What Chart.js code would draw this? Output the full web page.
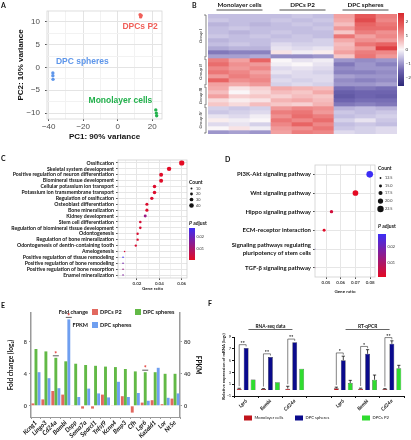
<!DOCTYPE html>
<html>
<head>
<meta charset="utf-8">
<title>DPC spheres transcriptome figure</title>
<script src="https://cdn.jsdelivr.net/npm/chart.js@4.4.1/dist/chart.umd.min.js"></script>
<style>
  body { margin: 0; background: #fff; }
  #fig { position: relative; width: 411px; height: 440px; overflow: hidden; font-family: Lato, "Liberation Sans", Arial, sans-serif; }
  #fig canvas { position: absolute; }
  .tag { position: absolute; font-weight: bold; font-size: 7px; line-height: 7px; color: #111; }
</style>
</head>
<body>
<div id="fig">
  <canvas id="pca" width="172" height="145" style="left:0;top:0"></canvas>
  <canvas id="heat" width="216" height="145" style="left:195px;top:0"></canvas>
  <canvas id="goBp" width="212" height="145" style="left:0;top:150px"></canvas>
  <canvas id="kegg" width="206" height="145" style="left:205px;top:150px"></canvas>
  <canvas id="fold" width="205" height="142" style="left:0;top:298px"></canvas>
  <canvas id="qpcr" width="206" height="142" style="left:205px;top:298px"></canvas>
  <div class="tag" style="left:1px;top:2px">A</div>
  <div class="tag" style="left:192px;top:2px">B</div>
  <div class="tag" style="left:1px;top:155px">C</div>
  <div class="tag" style="left:225px;top:156px">D</div>
  <div class="tag" style="left:1px;top:302px">E</div>
  <div class="tag" style="left:208px;top:300px">F</div>
</div>
<script>
// ---------- data ----------
// A: PCA
const pcaGroups = ['DPCs P2', 'DPC spheres', 'Monolayer cells'];
const pcaPc1 = [[13.0, 13.3, 13.6], [-37.6, -37.6, -37.5], [22.1, 22.4, 22.6]];
const pcaPc2 = [[11.6, 11.1, 11.4], [-1.2, -1.8, -2.6], [-9.3, -10.0, -10.6]];
const pcaXTicks = [-40, -30, -20, -10, 0, 10, 20];
const pcaYTicks = [-10, -7.5, -5, -2.5, 0, 2.5, 5, 7.5, 10];

// B: heatmap (z-scores), 3 replicates per condition
const heatConditions = ['Monolayer cells', 'DPCs P2', 'DPC spheres'];
const heatSamples = ['M1', 'M2', 'M3', 'P1', 'P2', 'P3', 'S1', 'S2', 'S3'];
const heatGroupNames = ['Group I', 'Group II', 'Group III', 'Group IV'];
const heatGroupSizes = [11, 7, 5, 7];
const heatValues = [
  [-0.6, -0.6, -0.6, -0.6, -0.5, -0.6, 0.9, 1.8, 1.3],
  [-0.5, -0.6, -0.6, -0.5, -0.6, -0.5, 0.8, 2.0, 1.2],
  [-0.7, -0.6, -0.7, -0.6, -0.5, -0.6, 0.6, 1.6, 1.4],
  [-0.6, -0.5, -0.6, -0.6, -0.6, -0.5, 1.0, 1.5, 1.5],
  [-0.6, -0.7, -0.6, -0.5, -0.6, -0.6, 0.5, 1.3, 1.1],
  [-0.5, -0.6, -0.5, -0.6, -0.5, -0.6, 1.4, 0.9, 1.2],
  [-0.7, -0.6, -0.6, -0.5, -0.5, -0.4, 0.8, 1.1, 1.0],
  [-0.6, -0.5, -0.6, -0.3, -0.4, -0.4, 0.6, 1.4, 1.6],
  [-0.8, -0.7, -0.7, -0.2, -0.3, -0.2, 0.7, 1.0, 2.2],
  [-1.3, -1.2, -1.2, 0.2, -0.1, 0.1, 0.9, 1.3, 1.2],
  [-0.9, -0.9, -0.8, -1.1, -1.1, -1.0, 0.5, 1.4, 1.0],
  [1.3, 0.9, 1.6, 0.0, -0.2, -0.1, -1.0, -1.1, -1.0],
  [1.5, 1.1, 1.0, -0.1, 0.0, -0.2, -1.3, -1.0, -1.2],
  [1.2, 1.0, 1.2, -0.3, -0.2, -0.3, -1.1, -1.0, -1.0],
  [1.4, 1.2, 0.9, -0.2, -0.3, -0.4, -1.2, -1.2, -1.1],
  [1.0, 1.3, 1.1, -0.4, -0.3, -0.3, -0.9, -1.0, -1.0],
  [1.6, 1.1, 1.2, -0.3, -0.4, -0.3, -1.1, -1.2, -1.1],
  [0.9, 0.8, 1.0, -0.4, -0.3, -0.4, -1.0, -1.0, -0.9],
  [0.8, 0.2, 0.4, 0.8, 0.7, 0.6, -1.4, -1.3, -1.4],
  [0.6, 0.0, 0.3, 0.6, 0.5, 0.8, -1.6, -1.5, -1.5],
  [0.9, 0.4, 0.5, 0.4, 0.6, 0.5, -1.7, -1.5, -1.6],
  [0.3, 0.1, 0.2, 0.7, 0.8, 0.6, -1.5, -1.4, -1.4],
  [0.5, 0.3, 0.6, 0.5, 0.4, 0.7, -1.3, -1.2, -1.3],
  [-0.4, -0.5, -0.4, 1.0, 1.2, 1.1, -0.7, -0.6, -0.7],
  [-0.5, -0.4, -0.3, 1.3, 1.4, 1.0, -0.5, -0.6, -0.5],
  [-0.2, -0.3, -0.1, 1.1, 1.5, 1.3, -0.6, -0.5, -0.4],
  [0.1, -0.1, 0.0, 1.4, 1.2, 1.5, -0.4, -0.2, -0.5],
  [-0.3, -0.2, -0.4, 1.2, 1.6, 1.2, -0.6, -0.5, -0.6],
  [0.0, 0.2, -0.1, 1.0, 1.1, 1.4, -0.5, -0.4, -0.3],
  [-1.0, -0.9, -1.0, 0.9, 1.3, 1.2, -0.3, -0.4, -0.3]
];
const heatScaleTicks = [2, 1, 0, -1, -2];

// C: GO biological process enrichment
const goTerms = [
  'Ossification', 'Skeletal system development', 'Positive regulation of neuron differentiation',
  'Biomineral tissue development', 'Cellular potassium ion transport', 'Potassium ion transmembrane transport',
  'Regulation of ossification', 'Osteoblast differentiation', 'Bone mineralization', 'Kidney development',
  'Stem cell differentiation', 'Regulation of biomineral tissue development', 'Odontogenesis',
  'Regulation of bone mineralization', 'Odontogenesis of dentin-containing tooth', 'Amelogenesis',
  'Positive regulation of tissue remodeling', 'Positive regulation of bone remodeling',
  'Positive regulation of bone resorption', 'Enamel mineralization'
];
const goRatio = [0.060, 0.0487, 0.0416, 0.0416, 0.0357, 0.0357, 0.0333, 0.0289, 0.0289, 0.0274,
  0.0230, 0.0230, 0.0206, 0.0206, 0.0190, 0.0090, 0.0076, 0.0076, 0.0076, 0.0076];
const goCount = [47, 38, 33, 33, 28, 28, 26, 23, 23, 22, 18, 18, 16, 16, 15, 7, 6, 6, 6, 6];
const goPadj = [0.0004, 0.0006, 0.0012, 0.0010, 0.0015, 0.0015, 0.0020, 0.0018, 0.0016, 0.0125,
  0.0025, 0.0022, 0.0020, 0.0018, 0.0022, 0.0030, 0.0270, 0.0180, 0.0120, 0.0160];
const goXTicks = [0.01, 0.02, 0.03, 0.04, 0.05, 0.06];
const goCountKeys = [10, 20, 30, 40];
const goPadjTicks = [0.02, 0.01];

// D: KEGG pathway enrichment
const keggTerms = [
  'PI3K-Akt signaling pathway', 'Wnt signaling pathway', 'Hippo signaling pathway',
  'ECM-receptor interaction', ['Signaling pathways regulating', 'pluripotency of stem cells'],
  'TGF-β signaling pathway'
];
const keggRatio = [0.0797, 0.0700, 0.0537, 0.0487, 0.0422, 0.0422];
const keggCount = [23, 21, 16, 15, 12, 12];
const keggPadj = [0.0285, 0.0008, 0.0040, 0.0015, 0.0272, 0.0120];
const keggXTicks = [0.05, 0.06, 0.07, 0.08];
const keggCountKeys = [12.5, 15.0, 17.5, 20.0, 22.5];
const keggPadjTicks = [0.02, 0.01];

// E: fold change and FPKM
const foldGenes = ['Kcng1', 'Lingo3', 'Cd24a', 'Bambi', 'Dspp', 'Sema7a', 'Sparcl1', 'Tnfsf9',
  'Kcnn4', 'Bmp3', 'Cfh', 'Lgr6', 'Kazald1', 'Lor', 'Nt5e'];
const foldP2 = [0.3, 0.8, 1.85, 1.4, 0.08, -0.35, -0.35, 1.4, 0.08, 1.2, -0.85, 0.4, 0.7, 0.2, 0.9];
const foldSpheres = [7.1, 6.8, 6.0, 5.56, 5.26, 5.1, 5.0, 4.9, 4.84, 4.6, 4.3, 4.2, 4.2, 4.0, 4.0];
const fpkmSpheres = [42, 34.5, 22, 108, 11, 21.5, 15.5, 10.5, 30, 11, 16, 6.3, 47.5, 10, 15.5];
const foldSig = ['', '', '*', '*', '', '', '', '', '', '', '', '*', '', '', ''];
const foldTicks = [0, 4, 8];
const fpkmTicks = [0, 40, 80];

// F: RNA-seq vs RT-qPCR
const qpcrGenes = ['Lgr6', 'Bambi', 'Cd24a', '', 'Lgr6', 'Bambi', 'Cd24a'];
const qpcrSeries = ['Monolayer cells', 'DPC spheres', 'DPCs P2'];
const qpcrMono = [0.25, 0.2, 0.25, null, 0.3, 0.25, 0.2];
const qpcrMonoErr = [0.06, 0.05, 0.4, null, 0.2, 0.08, 0.05];
const qpcrSph = [7.15, 5.6, 8.1, null, 5.05, 6.15, 7.85];
const qpcrSphErr = [0, 0, 0, null, 0.7, 0.7, 0.5];
const qpcrP2 = [1.8, 1.35, 3.6, null, 1.2, 1.75, 3.7];
const qpcrP2Err = [0, 0, 0, null, 0.45, 0.8, 0.5];
const qpcrSig = ['**', '**', '**', '', '*', '*', '**'];
const qpcrSets = ['RNA-seq data', 'RT-qPCR'];
const qpcrSetCenter = [1, 5];

// ---------- helpers ----------
Chart.defaults.animation = false;
Chart.defaults.events = [];
Chart.defaults.font.family = 'Lato, "Liberation Sans", Arial, sans-serif';
Chart.defaults.color = '#222';
Chart.defaults.plugins.legend.display = false;
Chart.defaults.plugins.tooltip.enabled = false;

const fitWidth = w => axis => { axis.width = w; };
const fitHeight = h => axis => { axis.height = h; };
const fixTicks = values => axis => { axis.ticks = values.map(v => ({ value: v })); };
const minus = v => String(v).replace('-', '\u2212');

function text(ctx, str, x, y, font, color, align, base, rot) {
  ctx.save();
  ctx.translate(x, y);
  if (rot) ctx.rotate(rot);
  ctx.font = font;
  ctx.fillStyle = color;
  ctx.textAlign = align || 'left';
  ctx.textBaseline = base || 'middle';
  ctx.fillText(str, 0, 0);
  ctx.restore();
}

function line(ctx, pts, color, w) {
  ctx.save();
  ctx.strokeStyle = color;
  ctx.lineWidth = w;
  ctx.beginPath();
  pts.forEach((p, i) => (i ? ctx.lineTo(p[0], p[1]) : ctx.moveTo(p[0], p[1])));
  ctx.stroke();
  ctx.restore();
}

const heatStops = [
  [-2.6, 45, 40, 120], [-1.5, 110, 100, 175], [-0.6, 195, 190, 225], [0, 250, 246, 248],
  [0.8, 243, 170, 170], [1.6, 232, 100, 100], [2.6, 215, 40, 45]
];
function heatColor(v) {
  const s = heatStops;
  if (v <= s[0][0]) return `rgb(${s[0][1]},${s[0][2]},${s[0][3]})`;
  for (let i = 1; i < s.length; i++) {
    if (v <= s[i][0]) {
      const t = (v - s[i - 1][0]) / (s[i][0] - s[i - 1][0]);
      const c = [1, 2, 3].map(k => Math.round(s[i - 1][k] + (s[i][k] - s[i - 1][k]) * t));
      return `rgb(${c[0]},${c[1]},${c[2]})`;
    }
  }
  const l = s[s.length - 1];
  return `rgb(${l[1]},${l[2]},${l[3]})`;
}

function padjColor(p, lo, hi) {
  const t = Math.max(0, Math.min(1, (p - lo) / (hi - lo)));
  const r = Math.round(228 * (1 - t) + 60 * t);
  const g = Math.round(10 * (1 - t) + 45 * t);
  const b = Math.round(35 * (1 - t) + 245 * t);
  return `rgb(${r},${g},${b})`;
}

const frame = {
  id: 'frame',
  afterDraw(chart, args, opts) {
    const { ctx, chartArea: a } = chart;
    ctx.save();
    ctx.strokeStyle = opts.color || '#d0d0d0';
    ctx.lineWidth = 0.8;
    ctx.strokeRect(a.left, a.top, a.right - a.left, a.bottom - a.top);
    ctx.restore();
  }
};

// ---------- A: PCA ----------
const pcaColors = ['#f0605a', '#5e96ea', '#22b14c'];
const pcaText = {
  id: 'pcaText',
  afterDatasetsDraw(chart, args, opts) {
    const { ctx, scales: { x, y } } = chart;
    pcaGroups.forEach((g, k) => {
      const [ax, ay] = opts.anchors[k];
      text(ctx, g, x.getPixelForValue(ax), y.getPixelForValue(ay),
        'bold 8.5px "Liberation Sans", Arial', pcaColors[k], 'center', 'middle');
    });
  }
};

new Chart(document.getElementById('pca'), {
  type: 'scatter',
  data: {
    datasets: pcaGroups.map((g, k) => ({
      label: g,
      data: pcaPc1[k].map((v, i) => ({ x: v, y: pcaPc2[k][i] })),
      pointRadius: 1.7,
      borderWidth: 0,
      backgroundColor: pcaColors[k]
    }))
  },
  options: {
    responsive: false,
    layout: { padding: { top: 11, right: 10 } },
    plugins: {
      frame: { color: '#d6d6d6' },
      pcaText: { anchors: [[13, 8.9], [-20.5, 1.2], [1.6, -7.2]] }
    },
    scales: {
      x: {
        min: -41, max: 25.7,
        afterBuildTicks: fixTicks(pcaXTicks),
        afterFit: fitHeight(26),
        border: { display: false },
        grid: {
          color: c => (c.tick && c.tick.value % 20 === 0 ? '#e4e4e4' : '#f2f2f2'),
          tickLength: 2,
          tickColor: c => (c.tick && c.tick.value % 20 === 0 ? '#555' : 'rgba(0,0,0,0)')
        },
        ticks: {
          autoSkip: false, maxRotation: 0, padding: 1, color: '#4d4d4d',
          font: { size: 8, family: '"Liberation Sans", Arial' },
          callback: v => (v % 20 === 0 ? minus(v) : '')
        },
        title: {
          display: true, text: 'PC1: 90% variance', color: '#111',
          font: { size: 8, weight: 'bold', family: '"Liberation Sans", Arial' },
          padding: { top: 0, bottom: 3 }
        }
      },
      y: {
        min: -11.3, max: 12.4,
        afterBuildTicks: fixTicks(pcaYTicks),
        afterFit: fitWidth(47),
        border: { display: false },
        grid: {
          color: c => (c.tick && c.tick.value % 5 === 0 ? '#e4e4e4' : '#f2f2f2'),
          tickLength: 2,
          tickColor: c => (c.tick && c.tick.value % 5 === 0 ? '#555' : 'rgba(0,0,0,0)')
        },
        ticks: {
          autoSkip: false, padding: 5, color: '#4d4d4d',
          font: { size: 8, family: '"Liberation Sans", Arial' },
          callback: v => (v % 5 === 0 ? minus(v) : '')
        },
        title: {
          display: true, text: 'PC2: 10% variance', color: '#111',
          font: { size: 8, weight: 'bold', family: '"Liberation Sans", Arial' },
          padding: { top: 16 }
        }
      }
    }
  },
  plugins: [frame, pcaText]
});

// ---------- B: heatmap ----------
const heatDeco = {
  id: 'heatDeco',
  afterDraw(chart) {
    const { ctx, scales: { x, y } } = chart;
    // condition headers
    heatConditions.forEach((c, k) => {
      const cx = x.getPixelForValue(k * 3 + 1);
      text(ctx, c, cx, 4.5, 'bold 6.3px Lato', '#111', 'center', 'middle');
      line(ctx, [[cx - 23, 10], [cx + 23, 10]], '#222', 0.8);
    });
    // group brackets
    let start = 0;
    heatGroupNames.forEach((g, k) => {
      const end = start + heatGroupSizes[k];
      const y0 = y.getPixelForValue(start) + 1, y1 = y.getPixelForValue(end) - 1;
      line(ctx, [[9, y0], [11, y0], [11, y1], [9, y1]], '#333', 0.6);
      text(ctx, g, 6, (y0 + y1) / 2, 'italic 4.6px Lato', '#222', 'center', 'middle', -Math.PI / 2);
      start = end;
    });
    // colour key
    const top = 13, bot = 86, left = 203, w = 6, vmax = 2.6, vmin = -2.6;
    for (let py = top; py < bot; py++) {
      const v = vmax - (py - top + 0.5) / (bot - top) * (vmax - vmin);
      ctx.fillStyle = heatColor(v);
      ctx.fillRect(left, py, w, 1);
    }
    heatScaleTicks.forEach(t => {
      const py = top + (vmax - t) / (vmax - vmin) * (bot - top);
      text(ctx, minus(t), left + w + 1.5, py, '4.6px Lato', '#333', 'left', 'middle');
    });
  }
};

new Chart(document.getElementById('heat'), {
  type: 'bar',
  data: {
    labels: heatSamples,
    datasets: heatValues.map(row => ({
      data: row.map(() => 1),
      backgroundColor: row.map(heatColor),
      borderWidth: 0,
      barPercentage: 1,
      categoryPercentage: 1
    }))
  },
  options: {
    responsive: false,
    layout: { padding: { left: 13, right: 14, top: 14, bottom: 11 } },
    scales: {
      x: { display: false, stacked: true },
      y: { display: false, stacked: true, reverse: true, min: 0, max: heatValues.length }
    }
  },
  plugins: [heatDeco]
});

// ---------- C & D: enrichment dot plots ----------
const goRadius = c => 0.5 + c * 0.045;
const keggRadius = c => Math.max(0.8, 0.9 + (c - 12.5) * 0.23);

function dotKey(opts) {
  return {
    id: 'dotKey',
    afterDraw(chart) {
      const ctx = chart.ctx;
      const o = opts;
      text(ctx, 'Count', o.x, o.countY, 'bold 5px Lato', '#111', 'left', 'middle');
      o.keys.forEach((k, i) => {
        const cy = o.keyY[i];
        ctx.fillStyle = '#111';
        ctx.beginPath();
        ctx.arc(o.x + 2.5, cy, o.radius(k), 0, Math.PI * 2);
        ctx.fill();
        text(ctx, o.fmt(k), o.x + 7, cy, '3.8px Lato', '#333', 'left', 'middle');
      });
      text(ctx, 'P', o.x, o.padjY, 'italic bold 5px Lato', '#111', 'left', 'middle');
      text(ctx, ' adjust', o.x + 3, o.padjY, 'bold 5px Lato', '#111', 'left', 'middle');
      for (let py = o.barTop; py < o.barBot; py++) {
        const p = o.hi - (py - o.barTop + 0.5) / (o.barBot - o.barTop) * (o.hi - o.lo);
        ctx.fillStyle = padjColor(p, o.lo, o.hi);
        ctx.fillRect(o.x, py, o.barW, 1);
      }
      o.ticks.forEach(t => {
        const py = o.barTop + (o.hi - t) / (o.hi - o.lo) * (o.barBot - o.barTop);
        text(ctx, t.toFixed(2), o.x + o.barW + 1.5, py, '3.8px Lato', '#333', 'left', 'middle');
      });
    }
  };
}

function dotChart(id, terms, ratio, count, padj, cfg) {
  const lo = Math.min(...padj), hi = Math.max(...padj);
  return new Chart(document.getElementById(id), {
    type: 'scatter',
    data: {
      datasets: [{
        data: terms.map((t, i) => ({ x: ratio[i], y: i })),
        pointRadius: c => cfg.radius(count[c.dataIndex]),
        backgroundColor: c => padjColor(padj[c.dataIndex], lo, hi),
        borderWidth: 0
      }]
    },
    options: {
      responsive: false,
      layout: { padding: { top: cfg.top, right: cfg.right } },
      plugins: { frame: { color: '#cfcfcf' } },
      scales: {
        x: {
          min: cfg.xmin, max: cfg.xmax,
          afterBuildTicks: fixTicks(cfg.xticks),
          afterFit: fitHeight(cfg.xh),
          border: { display: false },
          grid: {
            color: c => (cfg.major(c.tick && c.tick.value) ? '#e6e6e6' : '#f3f3f3'),
            tickLength: 2,
            tickColor: c => (cfg.major(c.tick && c.tick.value) ? '#555' : 'rgba(0,0,0,0)')
          },
          ticks: {
            autoSkip: false, maxRotation: 0, padding: 1, color: '#444',
            font: { size: 4.5, weight: 'bold' },
            callback: v => (cfg.major(v) ? v.toFixed(2) : '')
          },
          title: {
            display: true, text: 'Gene ratio', color: '#222',
            font: { size: 4.5, weight: 'bold' }, padding: { top: 0, bottom: cfg.titlePad }
          }
        },
        y: {
          type: 'category',
          labels: terms,
          offset: true,
          afterFit: fitWidth(cfg.yw),
          border: { display: false },
          grid: { color: '#e6e6e6', tickLength: 2, tickColor: '#555' },
          ticks: { autoSkip: false, padding: 2, color: '#111', font: { size: cfg.labelSize, weight: 'bold' } }
        }
      }
    },
    plugins: [frame, dotKey(Object.assign({ lo, hi }, cfg.key))]
  });
}

dotChart('goBp', goTerms, goRatio, goCount, goPadj, {
  radius: goRadius, top: 10, right: 25, yw: 118, xh: 17, titlePad: 3.5,
  xmin: 0.0031, xmax: 0.0647, xticks: goXTicks, labelSize: 5.2,
  major: v => v != null && Math.round(v * 100) % 2 === 0,
  key: {
    x: 189, countY: 32, keys: goCountKeys, keyY: [38.5, 44, 49.5, 55.5], radius: goRadius, fmt: v => String(v),
    padjY: 73, barTop: 78, barBot: 110, barW: 6, ticks: goPadjTicks
  }
});

dotChart('kegg', keggTerms, keggRatio, keggCount, keggPadj, {
  radius: keggRadius, top: 15, right: 36, yw: 110, xh: 18, titlePad: 1,
  xmin: 0.0425, xmax: 0.0833, xticks: keggXTicks, labelSize: 6,
  major: v => v != null,
  key: {
    x: 173, countY: 18, keys: keggCountKeys, keyY: [28, 36, 43, 51, 59], radius: keggRadius, fmt: v => v.toFixed(1),
    padjY: 76, barTop: 84, barBot: 127, barW: 8, ticks: keggPadjTicks
  }
});

// ---------- E: fold change / FPKM ----------
const foldColors = ['#e2685f', '#62b946', '#6f9ff0'];
const foldDeco = {
  id: 'foldDeco',
  afterDraw(chart) {
    const { ctx, scales: { y } } = chart;
    // legend
    text(ctx, 'Fold change', 88, 14, 'bold 5.5px Lato', '#111', 'right', 'middle');
    ctx.fillStyle = foldColors[0]; ctx.fillRect(92, 11, 6, 6);
    text(ctx, 'DPCs P2', 100, 14, 'bold 5.5px Lato', '#111', 'left', 'middle');
    ctx.fillStyle = foldColors[1]; ctx.fillRect(135, 11, 6, 6);
    text(ctx, 'DPC spheres', 143, 14, 'bold 5.5px Lato', '#111', 'left', 'middle');
    text(ctx, 'FPKM', 88, 27, 'bold 5.5px Lato', '#111', 'right', 'middle');
    ctx.fillStyle = foldColors[2]; ctx.fillRect(92, 24, 6, 6);
    text(ctx, 'DPC spheres', 100, 27, 'bold 5.5px Lato', '#111', 'left', 'middle');
    // significance marks above the tallest bar of a gene
    foldSig.forEach((s, i) => {
      if (!s) return;
      const vals = [foldP2[i], foldSpheres[i], fpkmSpheres[i] / 10];
      const d = vals.indexOf(Math.max(...vals));
      const bx = chart.getDatasetMeta(d).data[i].x;
      const py = y.getPixelForValue(vals[d] + 0.25);
      line(ctx, [[bx - 3, py], [bx + 3, py]], '#333', 0.8);
      text(ctx, s, bx, py + 2.5, 'bold 7px Lato', '#e0302c', 'center', 'bottom');
    });
  }
};

new Chart(document.getElementById('fold'), {
  type: 'bar',
  data: {
    labels: foldGenes,
    datasets: [
      { label: 'DPCs P2', data: foldP2, backgroundColor: foldColors[0], yAxisID: 'y' },
      { label: 'DPC spheres', data: foldSpheres, backgroundColor: foldColors[1], yAxisID: 'y' },
      { label: 'FPKM DPC spheres', data: fpkmSpheres, backgroundColor: foldColors[2], yAxisID: 'y2' }
    ]
  },
  options: {
    responsive: false,
    layout: { padding: { top: 15 } },
    datasets: { bar: { categoryPercentage: 0.92, barPercentage: 0.95, borderWidth: 0 } },
    scales: {
      x: {
        afterFit: fitHeight(23),
        border: { color: '#9a9a9a', width: 1 },
        grid: { drawOnChartArea: false, tickLength: 2, color: '#9a9a9a' },
        ticks: {
          autoSkip: false, minRotation: 45, maxRotation: 45, padding: 0, color: '#111',
          font: { size: 6.3, weight: 'bold', style: 'italic' }
        }
      },
      y: {
        position: 'left', min: -1.4, max: 11.6,
        afterBuildTicks: fixTicks(foldTicks),
        afterFit: fitWidth(31),
        border: { color: '#9a9a9a', width: 1.5 },
        grid: { drawOnChartArea: false, tickLength: 2, color: '#9a9a9a' },
        ticks: { padding: 2, color: '#444', font: { size: 5.5, weight: 'bold' } },
        title: {
          display: true, text: 'Fold change (log\u2082)', color: '#111',
          font: { size: 6.5, weight: 'bold' }, padding: { top: 7 }
        }
      },
      y2: {
        position: 'right', min: -14, max: 116,
        afterBuildTicks: fixTicks(fpkmTicks),
        afterFit: fitWidth(25),
        border: { color: '#9a9a9a', width: 1.5 },
        grid: { drawOnChartArea: false, tickLength: 2, color: '#9a9a9a' },
        ticks: { padding: 2, color: '#444', font: { size: 5.5, weight: 'bold' } },
        title: {
          display: true, text: 'FPKM', color: '#111',
          font: { size: 6.5, weight: 'bold' }, padding: { top: 3 }
        }
      }
    }
  },
  plugins: [foldDeco]
});

// ---------- F: RNA-seq vs RT-qPCR ----------
const qpcrColors = ['#c0141b', '#0a0a8c', '#2fdc2f'];
const qpcrDeco = {
  id: 'qpcrDeco',
  afterDatasetsDraw(chart) {
    const { ctx, scales: { x, y } } = chart;
    const vals = [qpcrMono, qpcrSph, qpcrP2];
    const errs = [qpcrMonoErr, qpcrSphErr, qpcrP2Err];
    // error bars (upper only)
    vals.forEach((series, d) => {
      const meta = chart.getDatasetMeta(d);
      series.forEach((v, i) => {
        if (v == null || !errs[d][i]) return;
        const bx = meta.data[i].x;
        const top = y.getPixelForValue(v + errs[d][i]);
        line(ctx, [[bx, y.getPixelForValue(v)], [bx, top]], '#111', 0.8);
        line(ctx, [[bx - 1.6, top], [bx + 1.6, top]], '#111', 0.8);
      });
    });
    // significance brackets monolayer vs spheres
    qpcrSig.forEach((s, i) => {
      if (!s) return;
      const lx = chart.getDatasetMeta(0).data[i].x;
      const rx = chart.getDatasetMeta(1).data[i].x;
      const topV = qpcrSph[i] + qpcrSphErr[i] + 0.55;
      const py = y.getPixelForValue(topV);
      line(ctx, [[lx, y.getPixelForValue(qpcrMono[i] + qpcrMonoErr[i] + 0.35)], [lx, py], [rx, py],
        [rx, y.getPixelForValue(topV - 0.3)]], '#333', 0.6);
      text(ctx, s, (lx + rx) / 2, py + 1.2, 'bold 5px Lato', '#111', 'center', 'bottom');
    });
    // set headers
    qpcrSets.forEach((name, k) => {
      const cx = x.getPixelForValue(qpcrSetCenter[k]);
      text(ctx, name, cx, 28.5, 'bold 4.8px Lato', '#111', 'center', 'middle');
      line(ctx, [[cx - 22, 31.5], [cx + 22, 31.5]], '#222', 0.7);
    });
    // legend
    const lx = [39, 90, 157];
    qpcrSeries.forEach((name, k) => {
      ctx.fillStyle = qpcrColors[k];
      ctx.fillRect(lx[k], 117.5, 8, 5);
      text(ctx, name, lx[k] + 10.5, 120, '4.2px Lato', '#111', 'left', 'middle');
    });
  }
};

new Chart(document.getElementById('qpcr'), {
  type: 'bar',
  data: {
    labels: qpcrGenes,
    datasets: [
      { label: qpcrSeries[0], data: qpcrMono, backgroundColor: qpcrColors[0] },
      { label: qpcrSeries[1], data: qpcrSph, backgroundColor: qpcrColors[1] },
      { label: qpcrSeries[2], data: qpcrP2, backgroundColor: qpcrColors[2] }
    ]
  },
  options: {
    responsive: false,
    layout: { padding: { top: 39, right: 7 } },
    datasets: { bar: { categoryPercentage: 0.86, barPercentage: 0.7, borderWidth: 0.5, borderColor: '#222' } },
    scales: {
      x: {
        afterFit: fitHeight(44),
        border: { color: '#111', width: 1 },
        grid: { drawOnChartArea: false, tickLength: 2, color: '#111' },
        ticks: {
          autoSkip: false, minRotation: 45, maxRotation: 45, padding: 0, color: '#111',
          font: { size: 5, weight: 'bold', style: 'italic' }
        }
      },
      y: {
        min: -1, max: 9,
        ticks: { stepSize: 1, padding: 1, color: '#111', font: { size: 4 } },
        afterFit: fitWidth(29),
        border: { color: '#111', width: 1 },
        grid: { drawOnChartArea: false, tickLength: 2, color: '#111' },
        title: {
          display: true, text: 'Relative expression of mRNA (log\u2082)', color: '#111',
          font: { size: 4.3, weight: 'bold' }, padding: { top: 16 }
        }
      }
    }
  },
  plugins: [qpcrDeco]
});
</script>
</body>
</html>
